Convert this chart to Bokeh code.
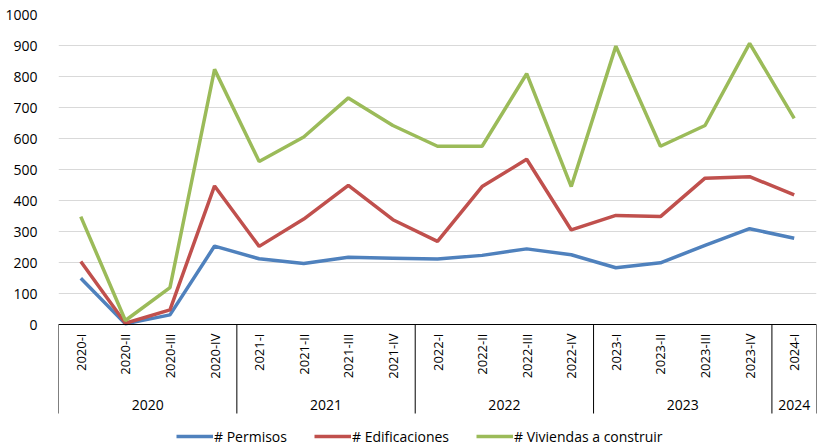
import math
from bokeh.plotting import figure
from bokeh.models import FactorRange, Legend, LegendItem, FixedTicker, Span, ColumnDataSource
from bokeh.core.properties import value
from bokeh.embed import file_html
from bokeh.resources import INLINE

# ---- data ----
years = ["2020"] * 4 + ["2021"] * 4 + ["2022"] * 4 + ["2023"] * 4 + ["2024"]
quarters = ["2020-I", "2020-II", "2020-III", "2020-IV",
            "2021-I", "2021-II", "2021-III", "2021-IV",
            "2022-I", "2022-II", "2022-III", "2022-IV",
            "2023-I", "2023-II", "2023-III", "2023-IV",
            "2024-I"]
permisos = [149, 2, 31, 253, 212, 197, 217, 214, 211, 223, 244, 225, 183, 199, 255, 309, 278]
edificaciones = [203, 4, 47, 447, 252, 340, 449, 338, 268, 445, 533, 305, 352, 348, 472, 477, 418]
viviendas = [348, 13, 119, 823, 526, 605, 731, 642, 575, 575, 809, 445, 898, 575, 642, 907, 665]
y_ticks = [0, 100, 200, 300, 400, 500, 600, 700, 800, 900, 1000]
series_names = ["# Permisos", "# Edificaciones", "# Viviendas a construir"]

# ---- layout / style ----
FONT = "Open Sans"
W, H = 821, 447
LEFT, RIGHT_GAP, TOP = 58, 5, 14
ZERO_Y = 324              # screen row of value 0
Y_MAX = 1000
px_per_unit = (ZERO_Y - TOP) / Y_MAX
y_min = -(H - ZERO_Y) / px_per_unit
SEP_PX = 89               # length of the category separators below the axis

factors = list(zip(years, quarters))
x_range = FactorRange(*factors, range_padding=0, factor_padding=0,
                      group_padding=0, subgroup_padding=0)

p = figure(x_range=x_range, y_range=(y_min, Y_MAX), width=W, height=H,
           output_backend="svg", toolbar_location=None,
           min_border_left=LEFT, min_border_top=TOP, min_border_right=RIGHT_GAP,
           min_border_bottom=0)
p.outline_line_color = None
p.background_fill_color = "white"
p.xgrid.grid_line_color = None
p.ygrid.grid_line_color = "#d9d9d9"
p.ygrid.grid_line_width = 1
p.yaxis.ticker = FixedTicker(ticks=y_ticks)
p.yaxis.axis_line_color = None
p.yaxis.major_tick_line_color = None
p.yaxis.minor_tick_line_color = None
p.yaxis.major_label_text_font = FONT
p.yaxis.major_label_text_font_size = "14px"
p.yaxis.major_label_text_color = "#000000"
p.yaxis.major_label_standoff = 15
p.xaxis.visible = False

# category axis (Excel-like multi-level)
p.add_layout(Span(location=0, dimension="width", line_color="black", line_width=1))

p.text(x=factors, y=[0] * len(factors), text=quarters, angle=math.pi / 2,
       text_align="right", text_baseline="middle", y_offset=9,
       text_font=value(FONT), text_font_size="13px", text_color="#000000")

year_groups = list(dict.fromkeys(years))
p.text(x=year_groups, y=[0] * len(year_groups), text=year_groups,
       text_align="center", text_baseline="middle", y_offset=80,
       text_font=value(FONT), text_font_size="14px", text_color="#000000")

sep_x = [factors[0] + (-0.5,)]
for i in range(len(years)):
    if i == len(years) - 1 or years[i] != years[i + 1]:
        sep_x.append(factors[i] + (0.5,))
sep_src = ColumnDataSource(dict(x0=sep_x, x1=sep_x,
                                y0=[0] * len(sep_x),
                                y1=[-SEP_PX / px_per_unit] * len(sep_x)))
p.segment(x0="x0", y0="y0", x1="x1", y1="y1", source=sep_src,
          line_color="black", line_width=1)

# series
r1 = p.line(factors, permisos, line_color="#4F81BD", line_width=3.5)
r2 = p.line(factors, edificaciones, line_color="#C0504D", line_width=3.5)
r3 = p.line(factors, viviendas, line_color="#9BBB59", line_width=3.5)

legend = Legend(items=[LegendItem(label=series_names[0], renderers=[r1]),
                       LegendItem(label=series_names[1], renderers=[r2]),
                       LegendItem(label=series_names[2], renderers=[r3])],
                orientation="horizontal", location=(118, 1),
                border_line_color=None, background_fill_alpha=0,
                label_text_font=FONT, label_text_font_size="14px",
                label_text_color="#000000",
                glyph_width=37, label_standoff=1, spacing=27, padding=0, margin=0)
p.add_layout(legend)

open("out.html", "w").write(file_html(p, INLINE))
